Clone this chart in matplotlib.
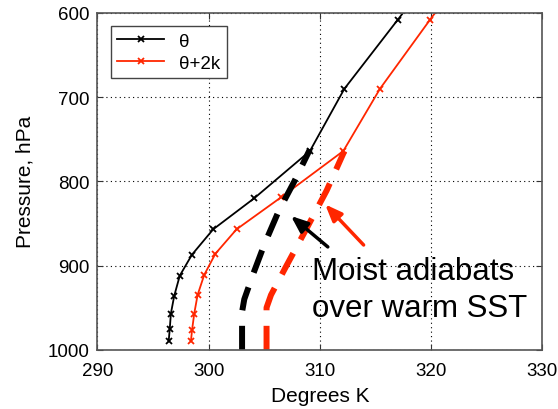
import matplotlib
matplotlib.use("Agg")
import matplotlib.pyplot as plt

plt.rcParams["font.family"] = ["Liberation Sans", "DejaVu Sans"]

# theta profile (K) vs pressure (hPa)
p_theta = [500, 608, 690, 764, 820, 857, 887, 912, 936, 957, 975, 990]
theta = [323.3, 317.0, 312.2, 309.1, 304.1, 300.4, 298.5, 297.4, 296.9, 296.6, 296.5, 296.4]

p_theta2 = [500, 608, 690, 764, 819, 857, 886, 911, 935, 957, 977, 990]
theta2 = [326.0, 319.9, 315.4, 312.1, 306.5, 302.5, 300.6, 299.6, 299.0, 298.7, 298.5, 298.4]

# moist adiabats
p_moist = [1000, 955, 940, 910, 875, 835, 800, 762]
t_moist = [303.0, 303.0, 303.2, 304.0, 305.0, 306.3, 307.7, 309.1]
p_moist2 = [1000, 950, 935, 900, 856, 811, 764]
t_moist2 = [305.2, 305.2, 305.6, 307.0, 308.8, 310.6, 312.2]

red = "#ff2600"

fig = plt.figure(figsize=(5.58, 4.10), dpi=100)
ax = fig.add_axes([0.1747, 0.1446, 0.7973, 0.8213])

ax.plot(theta, p_theta, "-x", color="black", lw=1.3, ms=5, mew=1.3, label="θ")
ax.plot(theta2, p_theta2, "-x", color=red, lw=1.3, ms=5, mew=1.3, label="θ+2k")
ax.plot(t_moist, p_moist, color="black", lw=4.3, dashes=(4, 2.6), solid_capstyle="butt", dash_capstyle="butt")
ax.plot(t_moist2, p_moist2, color=red, lw=4.3, dashes=(4, 2.6), solid_capstyle="butt", dash_capstyle="butt")

arrow = "-|>,head_length=1.0,head_width=0.4"
ax.annotate("", xy=(307.2, 839), xytext=(310.9, 880),
            arrowprops=dict(arrowstyle=arrow, color="black", lw=2.5))
ax.annotate("", xy=(310.3, 825), xytext=(314.1, 878),
            arrowprops=dict(arrowstyle=arrow, color=red, lw=2.5))
ax.text(309.3, 916, "Moist adiabats", fontsize=22.5, ha="left", va="baseline")
ax.text(309.3, 959.5, "over warm SST", fontsize=22.5, ha="left", va="baseline")

ax.set_xlim(290, 330)
ax.set_ylim(1000, 600)
ax.set_xticks([290, 300, 310, 320, 330])
ax.set_yticks([600, 700, 800, 900, 1000])
ax.grid(True, linestyle=(0, (1, 3)), color="black", lw=0.8)
ax.tick_params(direction="in", top=True, right=True, length=4, labelsize=13.5,
               colors="#333333", labelcolor="black")
ax.tick_params(axis="x", pad=9)
ax.tick_params(axis="y", pad=6)
for s in ax.spines.values():
    s.set_color("#555555")
    s.set_linewidth(1.2)

ax.set_xlabel("Degrees K", fontsize=15, labelpad=5)
ax.set_ylabel("Pressure, hPa", fontsize=15, labelpad=9)

leg = ax.legend(loc="upper left", fontsize=13.5, fancybox=False, framealpha=1,
                edgecolor="#444444", borderaxespad=0.7, handlelength=2.5,
                labelspacing=0.25, borderpad=0.35)
leg.get_frame().set_linewidth(1.0)

fig.savefig("out.png", dpi=100)
